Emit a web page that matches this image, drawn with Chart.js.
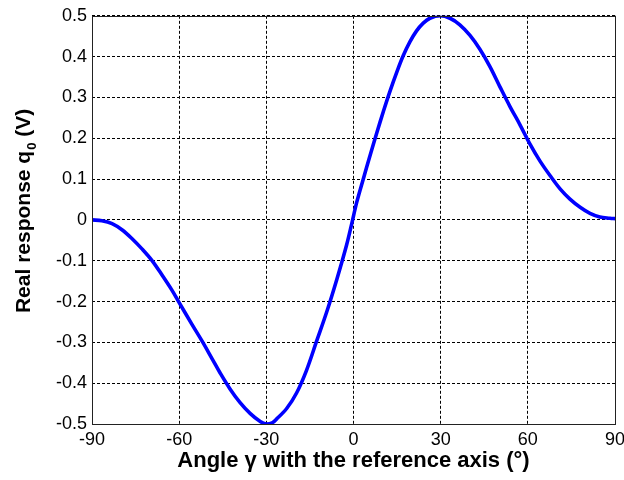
<!DOCTYPE html>
<html>
<head>
<meta charset="utf-8">
<script src="https://cdn.jsdelivr.net/npm/chart.js@4.4.0/dist/chart.umd.min.js"></script>
<style>
  html, body { margin: 0; padding: 0; background: #fff; overflow: hidden; }
  #wrap { width: 640px; height: 480px; position: absolute; left: 0; top: 0; }
</style>
</head>
<body>
<div id="wrap"><canvas id="c" width="640" height="480"></canvas></div>
<script>
// Data
const angles = [-90,-86.6,-83.1,-79.7,-76.2,-72.8,-69.4,-65.9,-62.5,-60.2,-55.6,-52.1,-48.6,-45.9,-42.5,-39.1,-35.6,-32.1,-30.0,-28.0,-26.5,-23.0,-19.6,-16.2,-12.7,-9.2,-5.8,-2.4,-0.6,1.1,3.4,5.7,8.0,10.3,12.6,14.9,17.1,19.4,21.7,24.0,26.3,29.8,33.2,36.6,40.1,43.5,47.0,50.4,53.9,57.3,60.8,64.2,67.7,71.1,74.5,78.0,81.4,84.8,88.3,90];
const response = [0,-0.002,-0.009,-0.024,-0.046,-0.071,-0.099,-0.135,-0.172,-0.2,-0.256,-0.297,-0.341,-0.375,-0.414,-0.447,-0.474,-0.494,-0.5,-0.497,-0.488,-0.462,-0.424,-0.369,-0.297,-0.225,-0.147,-0.062,-0.009,0.043,0.101,0.158,0.213,0.266,0.316,0.362,0.402,0.436,0.463,0.482,0.494,0.5,0.494,0.478,0.452,0.418,0.375,0.326,0.277,0.233,0.185,0.144,0.108,0.076,0.051,0.031,0.016,0.007,0.004,0.003];
const xTicks = [-90,-60,-30,0,30,60,90];
const yTicks = [-0.5,-0.4,-0.3,-0.2,-0.1,0,0.1,0.2,0.3,0.4,0.5];
const xTitle = 'Angle \u03B3 with the reference axis (\u00B0)';
const yTitleParts = ['Real response q', '0', ' (V)'];

const FONT = '"Liberation Sans", Arial, sans-serif';

const boxPlugin = {
  id: 'box',
  beforeDraw(chart) {
    const ctx = chart.ctx;
    ctx.save();
    ctx.fillStyle = '#fff';
    ctx.fillRect(0, 0, chart.width, chart.height);
    ctx.restore();
  },
  afterDraw(chart) {
    const {left, right, top, bottom} = chart.chartArea;
    const ctx = chart.ctx;
    ctx.save();
    ctx.strokeStyle = '#222';
    ctx.lineWidth = 1;
    ctx.strokeRect(Math.round(left) + 0.5, Math.round(top) + 0.5, Math.round(right - left), Math.round(bottom - top));
    // y axis title with subscript
    const big = 'bold 21px ' + FONT;
    const small = 'bold 13px ' + FONT;
    ctx.fillStyle = '#000';
    ctx.font = big; const w1 = ctx.measureText(yTitleParts[0]).width; const w3 = ctx.measureText(yTitleParts[2]).width;
    ctx.font = small; const w2 = ctx.measureText(yTitleParts[1]).width;
    const total = w1 + w2 + w3 + 1;
    const cy = (top + bottom) / 2 - 9;
    const bx = 29.5;
    ctx.translate(bx, cy + total / 2);
    ctx.rotate(-Math.PI / 2);
    ctx.textBaseline = 'alphabetic';
    ctx.textAlign = 'left';
    ctx.font = big; ctx.fillText(yTitleParts[0], 0, 0);
    ctx.font = small; ctx.fillText(yTitleParts[1], w1 + 1, 6);
    ctx.font = big; ctx.fillText(yTitleParts[2], w1 + w2 + 1, 0);
    ctx.restore();
  }
};

new Chart(document.getElementById('c'), {
  type: 'line',
  data: {
    datasets: [{
      data: angles.map((a, i) => ({x: a, y: response[i]})),
      borderColor: 'rgb(0,0,255)',
      borderWidth: 3.6,
      pointRadius: 0,
      tension: 0.35,
      fill: false
    }]
  },
  options: {
    responsive: false,
    animation: false,
    devicePixelRatio: 1,
    layout: { padding: { top: 11, right: 25, left: 0, bottom: 0 } },
    plugins: { legend: { display: false }, tooltip: { enabled: false } },
    scales: {
      x: {
        type: 'linear',
        min: -90, max: 90,
        afterBuildTicks: s => { s.ticks = xTicks.map(v => ({value: v})); },
        afterFit: s => { s.height = 56; },
        ticks: { color: '#000', font: { family: FONT, size: 18 }, padding: 5, maxRotation: 0, autoSkip: false,
                 callback: v => String(v) },
        grid: { color: '#000', lineWidth: 1, drawTicks: false },
        border: { display: false, dash: [3, 2] },
        title: { display: true, text: xTitle, color: '#000', font: { family: FONT, size: 22, weight: 'bold' }, padding: { top: 0, bottom: 6 } }
      },
      y: {
        type: 'linear',
        min: -0.5, max: 0.5,
        afterBuildTicks: s => { s.ticks = yTicks.map(v => ({value: v})); },
        afterFit: s => { s.width = 92; },
        ticks: { color: '#000', font: { family: FONT, size: 18 }, padding: 5, autoSkip: false,
                 callback: v => String(Math.round(v * 10) / 10) },
        grid: { color: '#000', lineWidth: 1, drawTicks: false },
        border: { display: false, dash: [3, 2] }
      }
    }
  },
  plugins: [boxPlugin]
});
</script>
</body>
</html>
